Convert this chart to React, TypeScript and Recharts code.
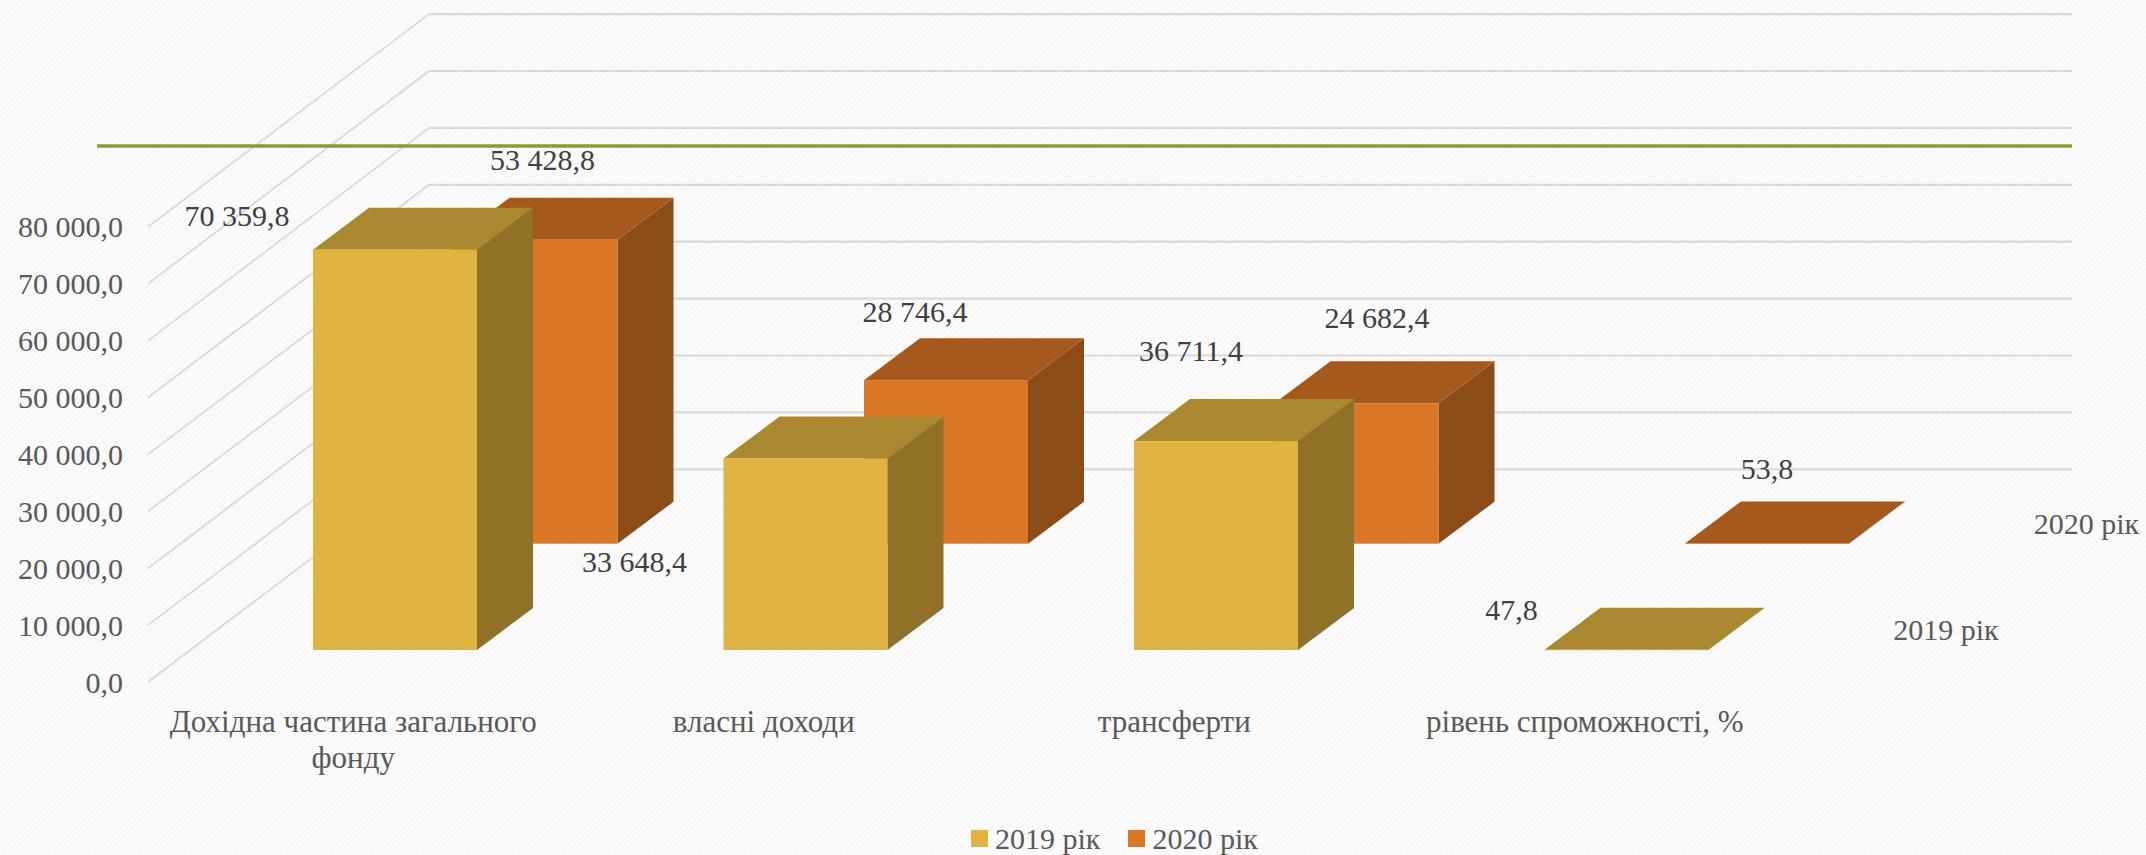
import React from "react";
import { ComposedChart, Bar, XAxis, YAxis, CartesianGrid, ReferenceLine, Legend, LabelList } from "recharts";

const categories = ["Дохідна частина загального фонду", "власні доходи", "трансферти", "рівень спроможності, %"];
const categoryLines: Record<string, string[]> = {
  "Дохідна частина загального фонду": ["Дохідна частина загального", "фонду"],
};
const values2019 = [70359.8, 33648.4, 36711.4, 47.8];
const values2020 = [53428.8, 28746.4, 24682.4, 53.8];
const yTicks = [0, 10000, 20000, 30000, 40000, 50000, 60000, 70000, 80000];
const seriesNames = ["2019 рік", "2020 рік"];
const accentLineValue = 94200;

const rows = categories.map((name, i) => ({ name, y2019: values2019[i], y2020: values2020[i] }));

const FONT = "'Liberation Serif', serif";
const W = 2146;
const H = 855;
const BAR_W = 164;
const DEPTH = { dx: 56, dy: 42 };
const WALL = { dx: 281, dy: 212.7 };
const GRID_RIGHT = 2072;
const FRONT_LEFT = 148;

const STYLE_2019 = { front: "#E0B440", top: "#AA8830", side: "#8F7228", sx: 42, sy: -32 };
const STYLE_2020 = { front: "#D97727", top: "#A6591C", side: "#8B4C17", sx: 182.5, sy: -138.3 };
const LABEL_OFF_2019 = [[-158, -34], [-171, 103], [-25, -91], [-115, -40]];
const LABEL_OFF_2020 = [[7, -80], [-31, -69], [20.5, -86], [0, -75]];
const SERIES_LABEL_OFF = [319.5, -20];

const fmt = (v: number) => {
  const [a, b] = v.toFixed(1).split(".");
  return a.replace(/\B(?=(\d{3})+(?!\d))/g, " ") + "," + b;
};

const makeBox = (st: typeof STYLE_2019) => (p: any) => {
  const x = p.x + st.sx;
  const y = p.y + st.sy;
  const w = p.width;
  const h = p.height;
  const { dx, dy } = DEPTH;
  return (
    <g>
      <polygon points={`${x + w},${y} ${x + w + dx},${y - dy} ${x + w + dx},${y + h - dy} ${x + w},${y + h}`} fill={st.side} />
      <polygon points={`${x},${y} ${x + w},${y} ${x + w + dx},${y - dy} ${x + dx},${y - dy}`} fill={st.top} />
      <rect x={x} y={y} width={w} height={Math.max(h, 0.5)} fill={st.front} />
    </g>
  );
};

const makeLabel = (st: typeof STYLE_2019, off: number[][], seriesName: string) => (p: any) => {
  const cx = p.x + p.width / 2 + st.sx;
  const top = p.y + st.sy;
  const [ox, oy] = off[p.index];
  return (
    <g>
      <text x={cx + ox} y={top + oy} textAnchor="middle" dominantBaseline="central" fontFamily={FONT} fontSize={30} fill="#404040">
        {fmt(Number(p.value))}
      </text>
      {p.index === categories.length - 1 && (
        <text x={cx + SERIES_LABEL_OFF[0]} y={top + SERIES_LABEL_OFF[1]} textAnchor="middle" dominantBaseline="central" fontFamily={FONT} fontSize={30} fill="#595959">
          {seriesName}
        </text>
      )}
    </g>
  );
};

const GridLine = (p: any) => {
  const y = p.y1;
  const bx = FRONT_LEFT + WALL.dx;
  const by = y - WALL.dy;
  return (
    <g key={p.key}>
      <line x1={FRONT_LEFT} y1={y} x2={bx} y2={by} stroke="#D9D9D9" strokeWidth={1.8} />
      <line x1={bx} y1={by} x2={GRID_RIGHT} y2={by} stroke="#D9D9D9" strokeWidth={2.2} />
    </g>
  );
};

const YTick = (p: any) => (
  <text x={123} y={p.y} textAnchor="end" dominantBaseline="central" fontFamily={FONT} fontSize={30} fill="#595959">
    {fmt(Number(p.payload.value))}
  </text>
);

const XTick = (p: any) => {
  const lines = categoryLines[p.payload.value] ?? [p.payload.value];
  return (
    <text textAnchor="middle" fontFamily={FONT} fontSize={31} fill="#595959">
      {lines.map((line: string, i: number) => (
        <tspan key={line} x={p.x} y={p.y + 42 + i * 36}>
          {line}
        </tspan>
      ))}
    </text>
  );
};

const LegendContent = () => (
  <div style={{ display: "flex", alignItems: "center", fontFamily: FONT, fontSize: 30, color: "#595959", lineHeight: "33px" }}>
    {seriesNames.map((n, i) => (
      <span key={n} style={{ display: "flex", alignItems: "center", marginRight: 28 }}>
        <span style={{ width: 17, height: 17, marginRight: 7, background: i === 0 ? STYLE_2019.front : STYLE_2020.front, display: "inline-block" }} />
        {n}
      </span>
    ))}
  </div>
);

export default function App() {
  return (
    <div
      style={{
        position: "absolute",
        left: 0,
        top: 0,
        width: W,
        height: H,
        overflow: "hidden",
        background: "repeating-linear-gradient(135deg, #fbfbfb 0 2px, #f8f8f8 2px 4px)",
      }}
    >
      <ComposedChart
        width={W}
        height={H}
        data={rows}
        barSize={BAR_W}
        barGap={-BAR_W}
        margin={{ top: 113, right: W - GRID_RIGHT, bottom: 80, left: 0 }}
      >
        <CartesianGrid vertical={false} horizontal={GridLine} syncWithTicks />
        <XAxis
          dataKey="name"
          axisLine={false}
          tickLine={false}
          height={60}
          interval={0}
          padding={{ left: FRONT_LEFT - 97, right: GRID_RIGHT - 148 - 1642 }}
          tick={XTick}
        />
        <YAxis
          width={97}
          domain={[0, 100000]}
          ticks={yTicks}
          interval={0}
          axisLine={false}
          tickLine={false}
          allowDataOverflow
          tick={YTick}
        />
        <ReferenceLine y={accentLineValue} stroke="#8A9E2C" strokeWidth={3.5} />
        <Bar dataKey="y2020" name={seriesNames[1]} isAnimationActive={false} shape={makeBox(STYLE_2020)}>
          <LabelList dataKey="y2020" content={makeLabel(STYLE_2020, LABEL_OFF_2020, seriesNames[1])} />
        </Bar>
        <Bar dataKey="y2019" name={seriesNames[0]} isAnimationActive={false} shape={makeBox(STYLE_2019)}>
          <LabelList dataKey="y2019" content={makeLabel(STYLE_2019, LABEL_OFF_2019, seriesNames[0])} />
        </Bar>
        <Legend content={LegendContent} wrapperStyle={{ left: 971, width: 320, bottom: 0 }} />
      </ComposedChart>
    </div>
  );
}
